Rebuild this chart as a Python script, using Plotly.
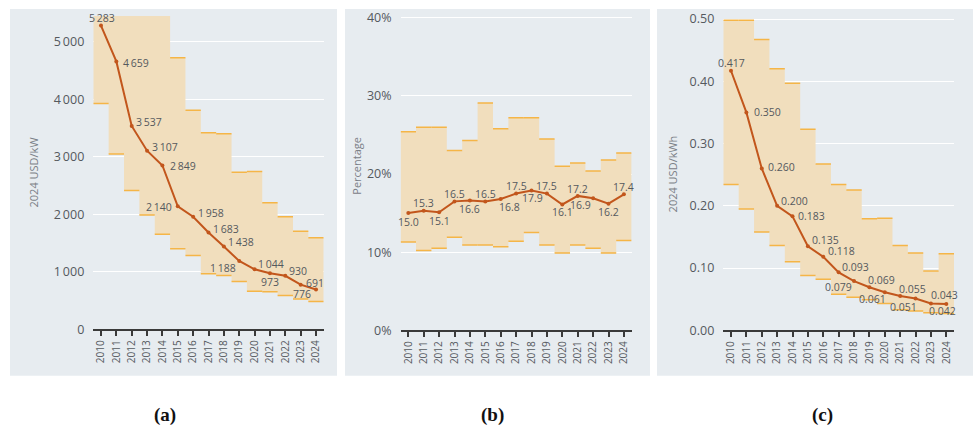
import plotly.graph_objects as go

years = list(range(2010, 2025))
year_labels = [str(y) for y in years]

# (a) installed cost, 2024 USD/kW
a_mid = [5283, 4659, 3537, 3107, 2849, 2140, 1958, 1683, 1438, 1188, 1044, 973, 930, 776, 691]
a_hi = [5600, 5600, 5600, 5600, 5600, 4725, 3810, 3418, 3400, 2732, 2744, 2200, 1958, 1705, 1594]
a_lo = [3928, 3047, 2412, 1987, 1655, 1402, 1285, 965, 937, 830, 662, 651, 589, 527, 483]
a_ticks = [0, 1000, 2000, 3000, 4000, 5000]
a_ticktext = ["0", "1\u2009000", "2\u2009000", "3\u2009000", "4\u2009000", "5\u2009000"]

# (b) capacity factor, %
b_mid = [15.0, 15.3, 15.1, 16.5, 16.6, 16.5, 16.8, 17.5, 17.9, 17.5, 16.1, 17.2, 16.9, 16.2, 17.4]
b_hi = [25.4, 26.0, 26.0, 23.0, 24.3, 29.1, 25.8, 27.2, 27.2, 24.5, 21.0, 21.4, 20.4, 21.8, 22.7]
b_lo = [11.3, 10.2, 10.5, 11.9, 10.9, 10.9, 10.7, 11.4, 12.5, 10.9, 9.9, 10.9, 10.5, 9.9, 11.5]
b_ticks = [0, 10, 20, 30, 40]
b_ticktext = ["0%", "10%", "20%", "30%", "40%"]

# (c) LCOE, 2024 USD/kWh
c_mid = [0.417, 0.350, 0.260, 0.200, 0.183, 0.135, 0.118, 0.093, 0.079, 0.069, 0.061, 0.055, 0.051, 0.043, 0.042]
c_hi = [0.498, 0.498, 0.467, 0.420, 0.397, 0.323, 0.267, 0.234, 0.2255, 0.179, 0.180, 0.136, 0.124, 0.095, 0.123]
c_lo = [0.234, 0.195, 0.158, 0.136, 0.110, 0.088, 0.082, 0.058, 0.053, 0.049, 0.043, 0.033, 0.031, 0.028, 0.027]
c_ticks = [0, 0.1, 0.2, 0.3, 0.4, 0.5]
c_ticktext = ["0.00", "0.10", "0.20", "0.30", "0.40", "0.50"]

a_text = [f"{v:,}".replace(",", "\u2009") for v in a_mid]
b_text = [f"{v:.1f}" for v in b_mid]
c_text = [f"{v:.3f}" for v in c_mid]

# label offsets from each point, in pixels (right, down)
a_off = [(1, -8), (20, 2), (17, -4), (18, -4), (21, 1), (-19, 1), (18, -4), (17, -4),
         (17, -5), (-16, 7), (16, -5), (0, 9), (13, -5), (1, 9), (-1, -7)]
b_off = [(0, 9), (0, -8), (0, 9), (0, -7), (0, 8), (0, -7), (9, 8), (0, -8),
         (1, 8), (0, -8), (0, 8), (0, -7), (-13, 7), (0, 8), (0, -7)]
c_off = [(1, -8), (21, 0), (20, -1), (17, -5), (19, 0), (18, -6), (18, -6), (17, -5),
         (-16, 6), (12, -7), (-12, 7), (12, -7), (-12, 8), (14, -8), (-4, 7)]

W, H = 979, 436
PANEL_BG = "#e7ecf0"
FILL = "#f1debd"
EDGE = "#f5b547"
LINE = "#c2561c"
TXT = "#55595e"
FONT = "Open Sans"


def dx(px):
    return px / W


def dy(py):
    return 1 - py / H


fig = go.Figure()


def add_panel(idx, mid, hi, lo, text, offs):
    xa = "x" if idx == 1 else f"x{idx}"
    ya = "y" if idx == 1 else f"y{idx}"
    px, py = [], []
    for yr, v in zip(years, hi):
        px += [yr - 0.5, yr + 0.5]
        py += [v, v]
    for yr, v in zip(reversed(years), reversed(lo)):
        px += [yr + 0.5, yr - 0.5]
        py += [v, v]
    fig.add_trace(go.Scatter(x=px, y=py, fill="toself", fillcolor=FILL, mode="none",
                             hoverinfo="skip", showlegend=False, xaxis=xa, yaxis=ya))
    ex, ey = [], []
    for yr, h, l in zip(years, hi, lo):
        ex += [yr - 0.5, yr + 0.5, None, yr - 0.5, yr + 0.5, None]
        ey += [h, h, None, l, l, None]
    fig.add_trace(go.Scatter(x=ex, y=ey, mode="lines", line=dict(color=EDGE, width=1.5),
                             hoverinfo="skip", showlegend=False, xaxis=xa, yaxis=ya))
    fig.add_trace(go.Scatter(x=years, y=mid, mode="lines+markers",
                             line=dict(color=LINE, width=2), marker=dict(size=4, color=LINE),
                             cliponaxis=False, showlegend=False, xaxis=xa, yaxis=ya))
    for yr, v, t, (ox, oy) in zip(years, mid, text, offs):
        fig.add_annotation(x=yr, y=v, xref=xa, yref=ya, text=t, showarrow=False,
                           xanchor="center", yanchor="middle", xshift=ox, yshift=-oy,
                           font=dict(size=10.5, color=TXT, family=FONT))


add_panel(1, a_mid, a_hi, a_lo, a_text, a_off)
add_panel(2, b_mid, b_hi, b_lo, b_text, b_off)
add_panel(3, c_mid, c_hi, c_lo, c_text, c_off)

xcommon = dict(range=[2009.5, 2024.5], tickmode="array", tickvals=years, ticktext=year_labels,
               tickangle=-90, showline=True, linecolor="#3a3a3a", linewidth=2,
               ticks="outside", ticklen=5, tickwidth=1.5, tickcolor="#3a3a3a",
               showgrid=False, zeroline=False, fixedrange=True,
               tickfont=dict(size=10, color=TXT, family=FONT))
ycommon = dict(showgrid=True, gridcolor="#ffffff", gridwidth=1, zeroline=False, showline=False,
               ticks="", ticklabelstandoff=8, fixedrange=True,
               tickfont=dict(size=12.5, color=TXT, family=FONT))

fig.update_layout(
    width=W, height=H, margin=dict(l=0, r=0, t=0, b=0),
    paper_bgcolor="white", plot_bgcolor=PANEL_BG, showlegend=False,
    font=dict(family=FONT), hovermode=False,
    xaxis=dict(domain=[dx(93.3), dx(323.7)], anchor="y", **xcommon),
    yaxis=dict(domain=[dy(334), dy(10.3)], anchor="x", range=[0, 5450],
               tickmode="array", tickvals=a_ticks, ticktext=a_ticktext, **ycommon),
    xaxis2=dict(domain=[dx(400.6), dx(631.6)], anchor="y2", **xcommon),
    yaxis2=dict(domain=[dy(335), dy(9.8)], anchor="x2", range=[0, 40.3],
                tickmode="array", tickvals=b_ticks, ticktext=b_ticktext, **ycommon),
    xaxis3=dict(domain=[dx(723.3), dx(954)], anchor="y3", **xcommon),
    yaxis3=dict(domain=[dy(335), dy(10.3)], anchor="x3", range=[0, 0.505],
                tickmode="array", tickvals=c_ticks, ticktext=c_ticktext, **ycommon),
)

for x0, x1 in [(10, 337), (345, 650), (657, 973)]:
    fig.add_shape(type="rect", xref="paper", yref="paper", x0=dx(x0), x1=dx(x1),
                  y0=dy(382), y1=dy(3), fillcolor=PANEL_BG, line=dict(width=0), layer="below")

for x, y, t in [(33, 172, "2024 USD/kW"), (357, 165, "Percentage"), (672, 174, "2024 USD/kWh")]:
    fig.add_annotation(xref="paper", yref="paper", x=dx(x), y=dy(y), text=t, textangle=-90,
                       showarrow=False, xanchor="center", yanchor="middle",
                       font=dict(size=11, color="#7b8087", family=FONT))

for x, t in [(165, "(a)"), (493, "(b)"), (822, "(c)")]:
    fig.add_annotation(xref="paper", yref="paper", x=dx(x), y=dy(423), text=f"<b>{t}</b>",
                       showarrow=False, xanchor="center", yanchor="middle",
                       font=dict(size=19, color="#111111", family="Liberation Serif"))

fig.write_html("out.html", config={"displayModeBar": False, "staticPlot": False},
               post_script="document.body.style.margin='0';document.body.style.overflow='hidden';")
